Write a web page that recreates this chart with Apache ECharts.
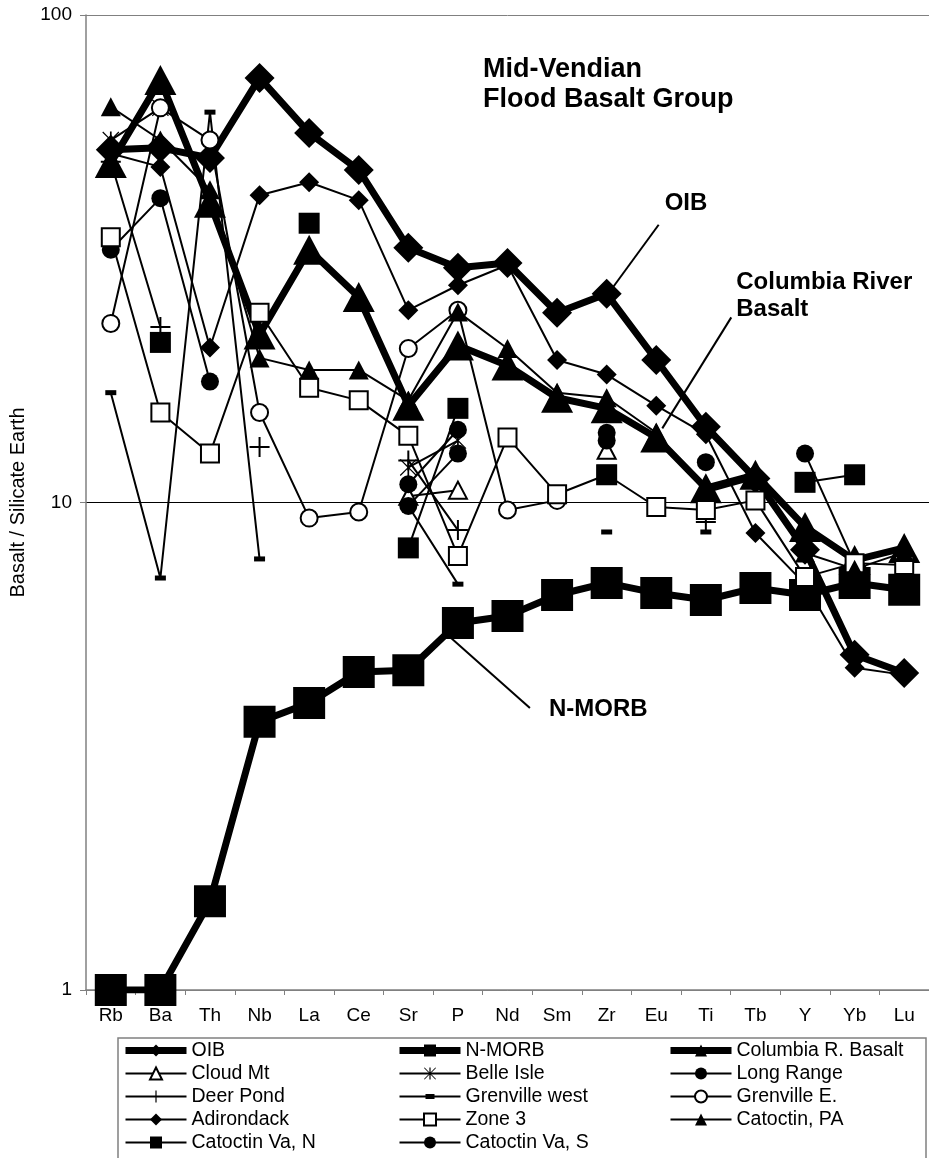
<!DOCTYPE html>
<html>
<head>
<meta charset="utf-8">
<script src="https://cdn.jsdelivr.net/npm/echarts@6/dist/echarts.min.js"></script>
<style>html,body{margin:0;padding:0;background:#fff}#c{width:929px;height:1158px}</style>
</head>
<body>
<div id="c"></div>
<script>
const categories = ['Rb','Ba','Th','Nb','La','Ce','Sr','P','Nd','Sm','Zr','Eu','Ti','Tb','Y','Yb','Lu'];
const yTicks = [1, 10, 100];

const oib      = [52.9, 53.4, 50.9, 74.3, 57.3, 48.1, 33.3, 30.3, 31.0, 24.5, 26.8, 19.6, 14.3, 11.2, 8.0, 4.87, 4.47];
const nmorb    = [1.0, 1.0, 1.52, 3.55, 3.88, 4.49, 4.53, 5.66, 5.85, 6.46, 6.84, 6.52, 6.31, 6.68, 6.46, 6.84, 6.62];
const crb      = [49.7, 73.6, 41.2, 22.1, 33.0, 26.4, 15.8, 21.0, 19.1, 16.4, 15.6, 13.6, 10.7, 11.4, 8.91, 7.62, 8.07];
const cloudMt  = [null, null, null, null, null, null, 10.3, 10.6, null, null, 12.8, null, null, null, null, null, null];
const belleIsle= [55.4, 64.5, null, null, null, null, 11.8, 13.4, null, null, null, null, null, null, null, null, null];
const longRange= [33.0, 42.1, 17.7, null, null, null, 10.9, 14.1, null, null, 13.9, null, 12.1, null, 12.6, 7.5, null];
const deerPond = [50.0, 22.9, null, 13.0, null, null, 12.2, 8.78, null, null, null, null, 9.12, null, null, null, null];
const grenWest = [16.8, 7.0, 63.2, 7.66, null, null, 9.84, 6.80, null, null, 8.70, null, 8.70, null, null, null, null];
const grenEast = [23.3, 64.5, 55.4, 15.3, 9.29, 9.56, 20.7, 24.8, 9.65, 10.1, null, null, null, null, null, null, null];
const adirondack=[52.0, 48.8, 20.8, 42.7, 45.4, 41.7, 24.8, 27.9, 30.7, 19.6, 18.3, 15.8, 13.8, 8.66, 6.8, 4.58, 4.43];
const zone3    = [35.0, 15.3, 12.6, 24.5, 17.2, 16.2, 13.7, 7.77, 13.6, 10.4, 11.4, 9.79, 9.65, 10.1, 7.03, 7.51, 7.44];
const catPA    = [64.8, 55.4, 43.8, 19.8, 18.7, 18.7, 16.2, 24.6, 20.7, 16.8, 16.4, 13.9, 10.5, 11.2, 7.88, 7.3, 7.9];
const catVaN   = [null, 21.3, null, null, 37.4, null, 8.07, 15.6, null, null, 11.4, null, null, null, 11.0, 11.4, null];
const catVaS   = [null, null, null, null, null, null, 9.84, 12.6, null, null, 13.4, null, null, null, null, null, null];

const FONT = 'Liberation Sans, Arial, sans-serif';
const PLUS = 'path://M9,0h2v9h9v2h-9v9h-2v-9h-9v-2h9z';
const STAR = 'path://M1,0L10,9L19,0L20,1L11,10L20,19L19,20L10,11L1,20L0,19L9,10L0,1Z M9,0h2v20h-2z';

function mk(name, data, symbol, size, opt) {
  opt = opt || {};
  const open = !!opt.open;
  return {
    name: name, type: 'line', data: data,
    symbol: symbol, symbolSize: size,
    showSymbol: true, showAllSymbol: true, connectNulls: false,
    lineStyle: { color: '#000', width: opt.width || 2 },
    itemStyle: open ? { color: '#fff', borderColor: '#000', borderWidth: 2 } : { color: '#000', borderWidth: 0 },
    emphasis: { disabled: true },
    animation: false
  };
}

const series = [
  mk('OIB', oib, 'diamond', 30, { width: 7 }),
  mk('N-MORB', nmorb, 'rect', 32, { width: 7 }),
  mk('Columbia R. Basalt', crb, 'triangle', [32, 30], { width: 7 }),
  mk('Cloud Mt', cloudMt, 'triangle', [18, 17], { open: true }),
  mk('Belle Isle', belleIsle, STAR, 17),
  mk('Long Range', longRange, 'circle', 18),
  mk('Deer Pond', deerPond, PLUS, 20),
  mk('Grenville west', grenWest, 'rect', [11, 5]),
  mk('Grenville E.', grenEast, 'circle', 17, { open: true }),
  mk('Adirondack', adirondack, 'diamond', 20),
  mk('Zone 3', zone3, 'rect', 18, { open: true }),
  mk('Catoctin, PA', catPA, 'triangle', [20, 19]),
  mk('Catoctin Va, N', catVaN, 'rect', 21),
  mk('Catoctin Va, S', catVaS, 'circle', 18)
];

const legendBase = {
  orient: 'vertical', top: 1039, itemWidth: 61, itemHeight: 15, itemGap: 0, padding: 0,
  selectedMode: false,
  lineStyle: { width: 2 },
  textStyle: { fontSize: 19.5, lineHeight: 23, color: '#000', fontFamily: FONT }
};
const thick = { width: 7 };

const chart = echarts.init(document.getElementById('c'), null, { renderer: 'canvas' });
chart.setOption({
  animation: false,
  backgroundColor: '#fff',
  textStyle: { fontFamily: FONT },
  title: {
    text: 'Mid-Vendian\nFlood Basalt Group', left: 483, top: 55, padding: 0,
    textStyle: { fontSize: 27, fontWeight: 'bold', lineHeight: 30, color: '#000', fontFamily: FONT }
  },
  grid: { left: 86, right: 0, top: 15, bottom: 168, containLabel: false },
  xAxis: {
    type: 'category', data: categories, boundaryGap: true,
    axisLine: { lineStyle: { color: '#808080', width: 1.5 } },
    axisTick: { show: true, length: 5, interval: 0, lineStyle: { color: '#808080', width: 1 } },
    axisLabel: { color: '#000', fontSize: 19, margin: 16, interval: 0, fontFamily: FONT },
    splitLine: { show: false }
  },
  yAxis: {
    type: 'log', logBase: 10, min: yTicks[0], max: yTicks[yTicks.length - 1],
    name: 'Basalt / Silicate Earth', nameLocation: 'middle', nameGap: 58,
    nameTextStyle: { fontSize: 20, color: '#000', fontFamily: FONT },
    axisLine: { show: true, lineStyle: { color: '#808080', width: 1.5 } },
    axisTick: { show: true, length: 6, lineStyle: { color: '#808080', width: 1 } },
    axisLabel: { color: '#000', fontSize: 19, margin: 14, fontFamily: FONT },
    splitLine: { show: true, lineStyle: { color: ['#808080', '#000', '#808080'], width: 1 } },
    minorTick: { show: false }, minorSplitLine: { show: false }
  },
  legend: [
    Object.assign({}, legendBase, { left: 122, data: [{ name: 'OIB', lineStyle: thick }, 'Cloud Mt', 'Deer Pond', 'Adirondack', 'Catoctin Va, N'] }),
    Object.assign({}, legendBase, { left: 396, data: [{ name: 'N-MORB', lineStyle: thick }, 'Belle Isle',
      { name: 'Grenville west', icon: 'path://M0,6h61v2h-61z M26,4.5h9v5h-9z' }, 'Zone 3', 'Catoctin Va, S'] }),
    Object.assign({}, legendBase, { left: 667, data: [{ name: 'Columbia R. Basalt', lineStyle: thick }, 'Long Range', 'Grenville E.', 'Catoctin, PA'] })
  ],
  series: series
});

// annotations anchored to data points
const pOIB = chart.convertToPixel({ xAxisIndex: 0, yAxisIndex: 0 }, [10, oib[10]]);
const pCRB = chart.convertToPixel({ xAxisIndex: 0, yAxisIndex: 0 }, [11, crb[11]]);
const pNM  = chart.convertToPixel({ xAxisIndex: 0, yAxisIndex: 0 }, [7, nmorb[7]]);
function txt(x, y, t) {
  return { type: 'text', z: 10, style: { x: x, y: y, text: t, fill: '#000',
    font: 'bold 24px ' + FONT, textAlign: 'left', textVerticalAlign: 'middle', align: 'left', verticalAlign: 'middle', lineHeight: 27 } };
}
function seg(a, b) {
  return { type: 'line', z: 1, shape: { x1: a[0], y1: a[1], x2: b[0], y2: b[1] }, style: { stroke: '#000', lineWidth: 2 } };
}
chart.setOption({
  graphic: [
    { type: 'rect', z: 0, shape: { x: 118, y: 1038, width: 808, height: 130 }, style: { fill: 'none', stroke: '#808080', lineWidth: 1.5 } },
    seg([pOIB[0] + 3, pOIB[1] - 2], [pOIB[0] + 52, pOIB[1] - 69]),
    txt(pOIB[0] + 58, pOIB[1] - 90, 'OIB'),
    seg([pCRB[0] + 6, pCRB[1] - 9], [pCRB[0] + 75, pCRB[1] - 120]),
    txt(pCRB[0] + 80, pCRB[1] - 142, 'Columbia River\nBasalt'),
    seg([pNM[0] - 8, pNM[1] + 14], [pNM[0] + 72, pNM[1] + 85]),
    txt(pNM[0] + 91, pNM[1] + 86, 'N-MORB')
  ]
});
</script>
</body>
</html>
